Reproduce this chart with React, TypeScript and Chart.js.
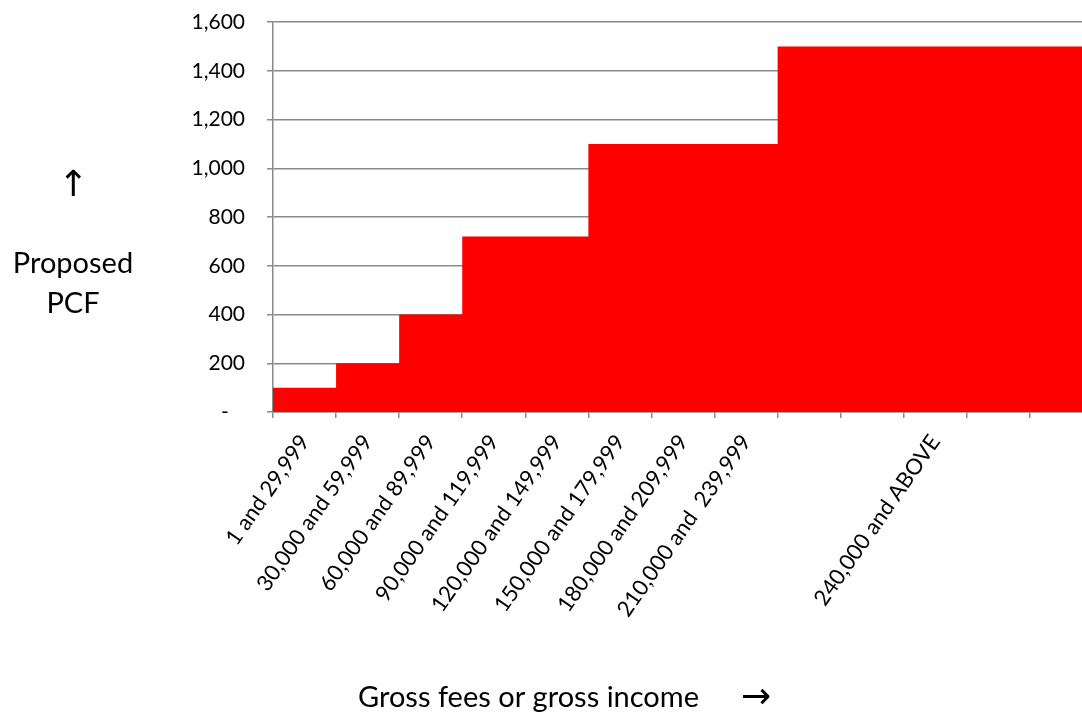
import React, { useEffect, useRef } from 'react';
import { Chart, registerables } from 'chart.js';

Chart.register(...registerables);

// ---- data ----
const categories = [
  '1 and 29,999',
  '30,000 and 59,999',
  '60,000 and 89,999',
  '90,000 and 119,999',
  '120,000 and 149,999',
  '150,000 and 179,999',
  '180,000 and 209,999',
  '210,000 and  239,999',
  '',
  '',
  '240,000 and ABOVE',
  '',
  '',
];
const pcfValues = [100, 200, 400, 720, 720, 1100, 1100, 1100, 1500, 1500, 1500, 1500, 1500];
const yTickValues = [0, 200, 400, 600, 800, 1000, 1200, 1400, 1600];
const yTickLabels = ['-   ', '200', '400', '600', '800', '1,000', '1,200', '1,400', '1,600'];
const yTitleArrow = '↑';
const yTitleLines = ['Proposed', 'PCF'];
const xTitle = 'Gross fees or gross income';
const xTitleArrow = '→';

const CANVAS_W = 1094;
const CANVAS_H = 713;
const FONT = 'Lato, "DejaVu Sans", sans-serif';
const ARROW_FONT = '"DejaVu Sans", sans-serif';
const GRID = '#8a8a8a';

export default function App() {
  const ref = useRef<HTMLCanvasElement | null>(null);

  useEffect(() => {
    const canvas = ref.current;
    if (!canvas) return;

    // step area: each category spans [i, i+1] on a linear x scale
    const stepPoints = pcfValues.map((v, i) => ({ x: i, y: v }));
    stepPoints.push({ x: pcfValues.length, y: pcfValues[pcfValues.length - 1] });

    const titlePlugin = {
      id: 'customTitles',
      afterDraw(chart: any) {
        const ctx = chart.ctx as CanvasRenderingContext2D;
        ctx.save();
        ctx.fillStyle = '#000';
        ctx.textBaseline = 'alphabetic';
        ctx.textAlign = 'center';
        ctx.font = `36px ${ARROW_FONT}`;
        ctx.fillText(yTitleArrow, 73, 196);
        ctx.font = `29px ${FONT}`;
        ctx.fillText(yTitleLines[0], 73, 273);
        ctx.fillText(yTitleLines[1], 73, 313);
        ctx.textAlign = 'left';
        ctx.fillText(xTitle, 358, 707);
        ctx.textAlign = 'center';
        ctx.font = `36px ${ARROW_FONT}`;
        ctx.fillText(xTitleArrow, 756, 708);
        ctx.restore();
      },
    };

    const chart = new Chart(canvas, {
      type: 'line',
      data: {
        datasets: [
          {
            data: stepPoints,
            stepped: 'before',
            fill: 'origin',
            backgroundColor: '#ff0000',
            borderColor: 'rgba(0,0,0,0)',
            borderWidth: 0,
            pointRadius: 0,
          },
        ],
      },
      options: {
        animation: false,
        responsive: false,
        maintainAspectRatio: false,
        layout: { padding: { left: 0, top: 22, right: 1, bottom: 0 } },
        plugins: {
          legend: { display: false },
          tooltip: { enabled: false },
        },
        scales: {
          x: {
            type: 'linear',
            z: 1,
            min: 0,
            max: categories.length,
            afterBuildTicks: (scale: any) => {
              scale.ticks = categories.map((_, i) => ({ value: i + 0.5 }));
            },
            grid: {
              display: true,
              drawOnChartArea: false,
              drawTicks: true,
              tickLength: 6,
              color: GRID,
              lineWidth: 1.5,
              offset: true,
            },
            border: { display: true, color: GRID, width: 1.5 },
            ticks: {
              autoSkip: false,
              minRotation: 55,
              maxRotation: 55,
              padding: 12,
              color: '#000',
              font: { family: FONT, size: 22 },
              callback: (v: any) => categories[Math.floor(Number(v))] ?? '',
            },
            afterFit: (scale: any) => {
              scale.height = CANVAS_H - 412;
              scale.paddingLeft = 0;
              scale.paddingRight = 0;
            },
          },
          y: {
            min: 0,
            max: 1600,
            afterBuildTicks: (scale: any) => {
              scale.ticks = yTickValues.map((v) => ({ value: v }));
            },
            ticks: {
              padding: 22,
              color: '#000',
              font: { family: FONT, size: 21 },
              callback: (v: any) => {
                const i = yTickValues.indexOf(Number(v));
                return i >= 0 ? yTickLabels[i] : '';
              },
            },
            grid: { color: GRID, lineWidth: 1.5, tickLength: 6 },
            border: { display: true, color: GRID, width: 1.5 },
            afterFit: (scale: any) => {
              scale.width = 273;
              scale.paddingTop = 0;
              scale.paddingBottom = 0;
            },
          },
        },
      },
      plugins: [titlePlugin],
    });

    return () => chart.destroy();
  }, []);

  return (
    <div
      style={{
        position: 'fixed',
        left: 0,
        top: 0,
        width: 1082,
        height: 713,
        overflow: 'hidden',
        background: '#fff',
      }}
    >
      <canvas
        ref={ref}
        width={CANVAS_W}
        height={CANVAS_H}
        style={{ display: 'block', width: CANVAS_W, height: CANVAS_H }}
      />
    </div>
  );
}
